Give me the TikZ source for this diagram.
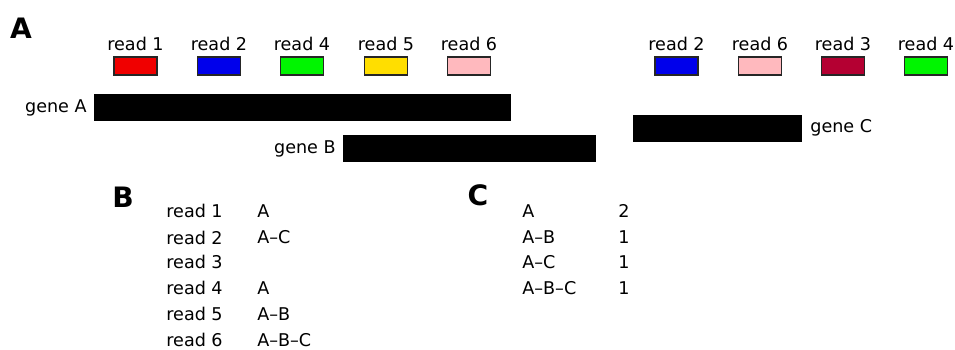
\documentclass[tikz,border=0pt]{standalone}
\usepackage{fontspec}
\setmainfont{DejaVu Sans}
\definecolor{readred}{RGB}{240,0,0}
\definecolor{readblue}{RGB}{0,0,235}
\definecolor{readgreen}{RGB}{0,245,0}
\definecolor{readyellow}{RGB}{255,222,0}
\definecolor{readpink}{RGB}{255,185,190}
\definecolor{readcrimson}{RGB}{180,0,50}
\begin{document}
\begin{tikzpicture}[x=0.02cm,y=-0.02cm,
  txt/.style={font=\fontsize{10}{12}\selectfont,inner sep=0pt},
  panel/.style={font=\fontsize{16}{18}\selectfont\bfseries,inner sep=0pt},
  readbox/.style={draw=black!85,line width=0.6pt,minimum width=0.86cm,
    minimum height=0.36cm,inner sep=0pt}]
\useasboundingbox (0,0) rectangle (955,349);
% panel A: reads above the genes
\node[panel] (pa) at (21,28) {A};
\foreach \i/\x/\n/\c in {1/135.5/1/readred,2/219/2/readblue,3/302/4/readgreen,
    4/386/5/readyellow,5/469/6/readpink,6/676.5/2/readblue,7/760/6/readpink,
    8/843/3/readcrimson,9/926/4/readgreen}{
  \node[txt] (lab\i) at (\x,44) {read \n};
  \node[readbox,fill=\c] (box\i) at (\x,66) {};
}
\fill (94,94) rectangle (511,121);
\fill (343,135) rectangle (596,162);
\fill (633,115) rectangle (802,142);
\node[txt,anchor=east] (gA) at (87,108) {gene A};
\node[txt,anchor=east] (gB) at (336,149) {gene B};
\node[txt,anchor=west] (gC) at (810,128) {gene C};
% panel B: genes hit by each read
\node[panel] (pb) at (123,197) {B};
\foreach \n/\y/\g in {1/211/A,2/237.5/A--C,3/262/,4/288/A,5/314/A--B,6/340/A--B--C}{
  \node[txt,anchor=west] (rd\n) at (166,\y) {read \n};
  \node[txt,anchor=west] (hit\n) at (257,\y) {\g};
}
% panel C: counts per gene set
\node[panel] (pc) at (478,195) {C};
\foreach \n/\y/\g/\k in {1/211/A/2,2/237.5/A--B/1,3/262/A--C/1,4/288/A--B--C/1}{
  \node[txt,anchor=west] (set\n) at (522,\y) {\g};
  \node[txt,anchor=west] (cnt\n) at (618,\y) {\k};
}
\end{tikzpicture}
\end{document}
